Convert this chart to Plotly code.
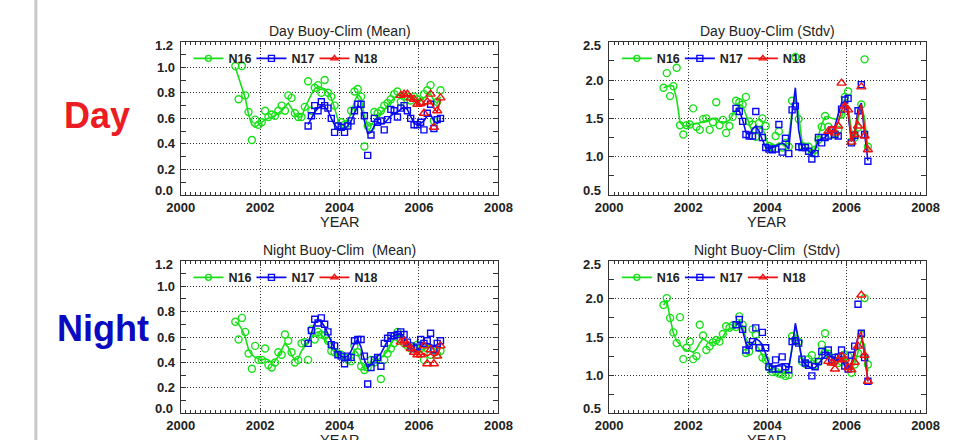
import plotly.graph_objects as go

# ---------------- data (monthly values) ----------------
N16_START = (2001, 5)
N17_START = (2003, 3)
N18_START = (2005, 7)

YEAR_TICKS = [2000, 2002, 2004, 2006, 2008]
MEAN_TICKS = [0.0, 0.2, 0.4, 0.6, 0.8, 1.0, 1.2]
STD_TICKS = [0.5, 1.0, 1.5, 2.0, 2.5]

# Day mean
DAY_MEAN_N16 = [1.01, 0.75, 1.01, 0.78, 0.65, 0.43, 0.59, 0.55,
                0.57, 0.66, 0.61, 0.63, 0.62, 0.66, 0.70, 0.66, 0.78, 0.76, 0.64, 0.61,
                0.61, 0.69, 0.89, 0.66, 0.84, 0.86, 0.80, 0.90, 0.80, 0.77, 0.70, 0.54,
                0.57, 0.55, 0.56, 0.66, 0.81, 0.83, 0.77, 0.38, 0.54, 0.53, 0.65, 0.64,
                0.66, 0.70, 0.72, 0.75, 0.79, 0.81, 0.73, 0.77, 0.77, 0.74, 0.77, 0.75,
                0.73, 0.79, 0.82, 0.86, 0.58, 0.73, 0.82]
DAY_MEAN_N16_SMOOTH = [1.00, 0.92, 0.85, 0.76, 0.63, 0.55, 0.53, 0.55,
                       0.57, 0.59, 0.60, 0.61, 0.62, 0.64, 0.66, 0.69, 0.72, 0.68, 0.63, 0.61,
                       0.61, 0.68, 0.74, 0.79, 0.83, 0.85, 0.84, 0.83, 0.80, 0.76, 0.68, 0.59,
                       0.55, 0.55, 0.58, 0.64, 0.73, 0.79, 0.76, 0.62, 0.54, 0.54, 0.58, 0.62,
                       0.64, 0.67, 0.70, 0.73, 0.76, 0.78, 0.78, 0.78, 0.77, 0.77, 0.75, 0.74,
                       0.74, 0.76, 0.78, 0.79, 0.74, 0.72, 0.77]
DAY_MEAN_N17 = [0.54, 0.62, 0.70, 0.66, 0.73, 0.70, 0.68, 0.60, 0.49, 0.54,
                0.53, 0.49, 0.54, 0.58, 0.66, 0.71, 0.71, 0.62, 0.31, 0.47, 0.60, 0.57,
                0.58, 0.51, 0.59, 0.67, 0.66, 0.61, 0.68, 0.70, 0.66, 0.60, 0.55, 0.55,
                0.57, 0.51, 0.64, 0.71, 0.52, 0.59, 0.60]
DAY_MEAN_N17_SMOOTH = [0.55, 0.60, 0.65, 0.68, 0.70, 0.69, 0.66, 0.60, 0.55, 0.52,
                       0.52, 0.52, 0.54, 0.58, 0.64, 0.70, 0.68, 0.58, 0.48, 0.49, 0.54, 0.57,
                       0.56, 0.56, 0.59, 0.62, 0.64, 0.65, 0.67, 0.69, 0.67, 0.61, 0.56, 0.55,
                       0.56, 0.58, 0.62, 0.63, 0.58, 0.56, 0.59]
DAY_MEAN_N18 = [0.78, 0.79, 0.79, 0.76, 0.75, 0.71, 0.72, 0.64, 0.73, 0.79, 0.53, 0.66, 0.76]
DAY_MEAN_N18_SMOOTH = [0.77, 0.78, 0.78, 0.76, 0.74, 0.72, 0.70, 0.70, 0.72, 0.74, 0.68, 0.65, 0.75]

# Day stdv
DAY_STD_N16 = [1.90, 2.09, 1.79, 1.92, 2.16, 1.41, 1.29, 1.41,
               1.42, 1.63, 1.39, 1.35, 1.49, 1.50, 1.35, 1.45, 1.71, 1.41, 1.48, 1.31,
               1.40, 1.52, 1.73, 1.71, 1.68, 1.78, 1.46, 1.42, 1.26, 1.44, 1.50, 1.40,
               1.14, 1.12, 1.27, 1.33, 1.12, 1.18, 1.13, 1.73, 2.30, 1.49, 1.14, 1.13,
               1.13, 1.05, 1.09, 1.22, 1.39, 1.53, 1.39, 1.29, 1.31, 1.35, 1.55, 1.78,
               1.85, 1.20, 1.25, 1.38, 1.68, 2.27, 1.13]
DAY_STD_N16_SMOOTH = [1.90, 1.92, 1.93, 1.92, 1.75, 1.45, 1.40, 1.40,
                      1.42, 1.43, 1.43, 1.44, 1.45, 1.47, 1.48, 1.50, 1.50, 1.46, 1.45, 1.45,
                      1.48, 1.55, 1.62, 1.68, 1.66, 1.55, 1.42, 1.32, 1.30, 1.36, 1.38, 1.25,
                      1.13, 1.12, 1.15, 1.18, 1.16, 1.17, 1.25, 1.60, 1.80, 1.55, 1.20, 1.12,
                      1.10, 1.05, 1.12, 1.28, 1.42, 1.52, 1.52, 1.50, 1.49, 1.48, 1.52, 1.62,
                      1.65, 1.35, 1.22, 1.48, 1.68, 1.50, 1.10]
DAY_STD_N17 = [1.63, 1.59, 1.46, 1.29, 1.27, 1.27, 1.59, 1.35, 1.25, 1.12,
               1.10, 1.09, 1.10, 1.42, 1.06, 1.24, 1.04, 1.61, 1.66, 1.13, 1.12, 1.12,
               1.07, 0.97, 1.04, 1.25, 1.18, 1.25, 1.27, 1.35, 1.29, 1.27, 1.62, 1.74,
               1.76, 1.18, 1.28, 1.60, 1.94, 1.29, 0.94]
DAY_STD_N17_SMOOTH = [1.62, 1.60, 1.48, 1.32, 1.28, 1.36, 1.40, 1.33, 1.22, 1.12,
                      1.10, 1.12, 1.15, 1.17, 1.18, 1.15, 1.10, 1.55, 1.90, 1.35, 1.12, 1.10,
                      1.08, 1.03, 1.08, 1.22, 1.24, 1.25, 1.30, 1.33, 1.40, 1.55, 1.70, 1.72,
                      1.55, 1.20, 1.30, 1.62, 1.70, 1.30, 0.95]
DAY_STD_N18 = [1.33, 1.35, 1.31, 1.40, 1.96, 1.66, 1.61, 1.19, 1.29, 1.40, 1.91, 1.27, 1.09]
DAY_STD_N18_SMOOTH = [1.32, 1.33, 1.36, 1.45, 1.60, 1.70, 1.62, 1.20, 1.30, 1.55, 1.68, 1.35, 1.07]

# Night mean
NIGHT_MEAN_N16 = [0.72, 0.58, 0.75, 0.64, 0.47, 0.35, 0.53, 0.42,
                  0.42, 0.51, 0.38, 0.36, 0.40, 0.48, 0.46, 0.62, 0.57, 0.48, 0.40, 0.42,
                  0.55, 0.56, 0.42, 0.66, 0.58, 0.64, 0.62, 0.61, 0.57, 0.49, 0.48, 0.47,
                  0.46, 0.44, 0.42, 0.41, 0.53, 0.48, 0.37, 0.34, 0.36, 0.42, 0.40, 0.43,
                  0.27, 0.42, 0.47, 0.51, 0.55, 0.64, 0.58, 0.55, 0.53, 0.51, 0.52, 0.54,
                  0.51, 0.42, 0.51, 0.46, 0.50, 0.46, 0.49]
NIGHT_MEAN_N16_SMOOTH = [0.72, 0.70, 0.66, 0.60, 0.50, 0.46, 0.44, 0.43,
                         0.42, 0.43, 0.42, 0.40, 0.41, 0.45, 0.50, 0.55, 0.52, 0.46, 0.42, 0.43,
                         0.49, 0.53, 0.57, 0.60, 0.63, 0.64, 0.62, 0.58, 0.54, 0.51, 0.48, 0.46,
                         0.45, 0.43, 0.42, 0.44, 0.50, 0.47, 0.40, 0.34, 0.36, 0.39, 0.41, 0.42,
                         0.44, 0.46, 0.49, 0.54, 0.59, 0.62, 0.58, 0.55, 0.52, 0.51, 0.50, 0.50,
                         0.50, 0.50, 0.52, 0.53, 0.51, 0.49, 0.47]
NIGHT_MEAN_N17 = [0.55, 0.65, 0.74, 0.71, 0.75, 0.70, 0.64, 0.54, 0.53, 0.46,
                  0.45, 0.39, 0.45, 0.44, 0.57, 0.58, 0.58, 0.45, 0.23, 0.36, 0.42, 0.44,
                  0.37, 0.55, 0.59, 0.61, 0.61, 0.62, 0.64, 0.62, 0.56, 0.53, 0.51, 0.52,
                  0.58, 0.55, 0.57, 0.63, 0.50, 0.55, 0.57]
NIGHT_MEAN_N17_SMOOTH = [0.55, 0.64, 0.71, 0.73, 0.72, 0.68, 0.62, 0.56, 0.51, 0.47,
                         0.45, 0.44, 0.45, 0.49, 0.55, 0.58, 0.52, 0.42, 0.36, 0.38, 0.42, 0.45,
                         0.47, 0.52, 0.57, 0.60, 0.61, 0.62, 0.63, 0.60, 0.55, 0.51, 0.49, 0.50,
                         0.52, 0.55, 0.55, 0.54, 0.53, 0.54, 0.55]
NIGHT_MEAN_N18 = [0.56, 0.57, 0.54, 0.51, 0.48, 0.46, 0.46, 0.53, 0.39, 0.50, 0.39, 0.45, 0.53]
NIGHT_MEAN_N18_SMOOTH = [0.56, 0.56, 0.54, 0.51, 0.48, 0.46, 0.46, 0.47, 0.45, 0.47, 0.45, 0.46, 0.52]

# Night stdv
NIGHT_STD_N16 = [1.92, 2.01, 1.75, 1.56, 1.42, 1.76, 1.21, 1.36,
                 1.44, 1.21, 1.25, 1.66, 1.52, 1.33, 1.38, 1.43, 1.46, 1.44, 1.54, 1.64,
                 1.62, 1.65, 1.63, 1.77, 1.66, 1.29, 1.31, 1.60, 1.53, 1.36, 1.23, 1.20,
                 1.10, 1.04, 1.05, 1.02, 1.01, 0.99, 1.00, 1.51, 1.47, 1.44, 1.18, 1.15,
                 1.21, 1.26, 1.13, 1.17, 1.40, 1.55, 1.28, 1.20, 1.18, 1.16, 1.18, 1.27,
                 1.25, 1.03, 1.14, 1.29, 1.53, 2.01, 1.14]
NIGHT_STD_N16_SMOOTH = [1.92, 1.98, 1.75, 1.55, 1.45, 1.40, 1.35, 1.33,
                        1.32, 1.30, 1.34, 1.42, 1.48, 1.45, 1.42, 1.43, 1.44, 1.46, 1.50, 1.58,
                        1.60, 1.62, 1.65, 1.72, 1.64, 1.48, 1.40, 1.42, 1.40, 1.34, 1.25, 1.18,
                        1.10, 1.05, 1.04, 1.03, 1.02, 1.02, 1.08, 1.40, 1.65, 1.45, 1.20, 1.16,
                        1.17, 1.20, 1.18, 1.22, 1.32, 1.35, 1.30, 1.25, 1.20, 1.18, 1.20, 1.22,
                        1.15, 1.08, 1.15, 1.30, 1.45, 1.40, 1.05]
NIGHT_STD_N17 = [1.66, 1.73, 1.60, 1.33, 1.39, 1.44, 1.62, 1.36, 1.56, 1.36,
                 1.11, 1.08, 1.20, 1.08, 1.24, 1.11, 1.07, 1.44, 1.45, 1.42, 1.21, 1.16,
                 1.13, 0.99, 1.11, 1.18, 1.31, 1.26, 1.33, 1.20, 1.23, 1.24, 1.33, 1.12,
                 1.08, 1.26, 1.38, 1.93, 1.55, 1.23, 0.92]
NIGHT_STD_N17_SMOOTH = [1.65, 1.70, 1.58, 1.42, 1.36, 1.42, 1.48, 1.45, 1.40, 1.28,
                        1.15, 1.10, 1.12, 1.13, 1.15, 1.12, 1.10, 1.35, 1.68, 1.45, 1.20, 1.14,
                        1.12, 1.09, 1.10, 1.15, 1.20, 1.25, 1.28, 1.24, 1.20, 1.22, 1.25, 1.12,
                        1.08, 1.15, 1.32, 1.50, 1.52, 1.30, 0.92]
NIGHT_STD_N18 = [1.18, 1.16, 1.08, 1.20, 1.25, 1.21, 1.10, 1.07, 1.17, 1.38, 2.05, 1.26, 0.92]
NIGHT_STD_N18_SMOOTH = [1.15, 1.13, 1.12, 1.18, 1.23, 1.18, 1.08, 1.10, 1.25, 1.50, 1.57, 1.25, 0.92]

# ---------------- styling ----------------
W, H = 959, 440
GREEN, BLUE, RED = "#18e018", "#0a0af0", "#f01010"
AXC = "#333333"
TXT = "#222222"
FONT = "Liberation Sans, Arial, sans-serif"


def month_positions(start, n):
    y, m = start
    return [y + (m - 1 + k + 0.5) / 12.0 for k in range(n)]


def px_x(p):
    return p / W


def px_y(p):
    return 1 - p / H


LEFT_X = [171.7, 499.0]
RIGHT_X = [613.0, 939.0]
TOP_Y = [41.7, 195.0]
BOT_Y = [260.7, 413.3]

panels = [
    dict(title="Day Buoy-Clim (Mean)", xd=LEFT_X, yd=TOP_Y, ticks=MEAN_TICKS, mdt=0.1,
         series=[(DAY_MEAN_N16, DAY_MEAN_N16_SMOOTH), (DAY_MEAN_N17, DAY_MEAN_N17_SMOOTH),
                 (DAY_MEAN_N18, DAY_MEAN_N18_SMOOTH)]),
    dict(title="Day Buoy-Clim (Stdv)", xd=RIGHT_X, yd=TOP_Y, ticks=STD_TICKS, mdt=0.25,
         series=[(DAY_STD_N16, DAY_STD_N16_SMOOTH), (DAY_STD_N17, DAY_STD_N17_SMOOTH),
                 (DAY_STD_N18, DAY_STD_N18_SMOOTH)]),
    dict(title="Night Buoy-Clim  (Mean)", xd=LEFT_X, yd=BOT_Y, ticks=MEAN_TICKS, mdt=0.1,
         series=[(NIGHT_MEAN_N16, NIGHT_MEAN_N16_SMOOTH), (NIGHT_MEAN_N17, NIGHT_MEAN_N17_SMOOTH),
                 (NIGHT_MEAN_N18, NIGHT_MEAN_N18_SMOOTH)]),
    dict(title="Night Buoy-Clim  (Stdv)", xd=RIGHT_X, yd=BOT_Y, ticks=STD_TICKS, mdt=0.25,
         series=[(NIGHT_STD_N16, NIGHT_STD_N16_SMOOTH), (NIGHT_STD_N17, NIGHT_STD_N17_SMOOTH),
                 (NIGHT_STD_N18, NIGHT_STD_N18_SMOOTH)]),
]

sat_names = ["N16", "N17", "N18"]
sat_starts = [N16_START, N17_START, N18_START]
sat_colors = [GREEN, BLUE, RED]
sat_symbols = ["circle-open", "square-open", "triangle-up-open"]
sat_sizes = [7, 6, 8]

fig = go.Figure()
layout = dict(
    width=W, height=H, margin=dict(l=0, r=0, t=0, b=0),
    paper_bgcolor="white", plot_bgcolor="white",
    font=dict(family=FONT, color=TXT),
    annotations=[], shapes=[],
)
tickfont = dict(size=13, family=FONT, color=TXT, weight="bold")

for i, p in enumerate(panels):
    k = "" if i == 0 else str(i + 1)
    xa, ya = "x" + k, "y" + k
    lg = "legend" + k
    for j in range(3):
        vals, smooth = p["series"][j]
        xs = month_positions(sat_starts[j], len(vals))
        xs2 = month_positions(sat_starts[j], len(smooth))
        fig.add_trace(go.Scatter(
            x=xs2, y=smooth, mode="lines", xaxis=xa, yaxis=ya,
            line=dict(color=sat_colors[j], width=1.6), showlegend=False, hoverinfo="skip"))
        fig.add_trace(go.Scatter(
            x=xs, y=vals, mode="markers", xaxis=xa, yaxis=ya,
            marker=dict(symbol=sat_symbols[j], size=sat_sizes[j], color=sat_colors[j],
                        line=dict(width=1.4, color=sat_colors[j])),
            showlegend=False))
        fig.add_trace(go.Scatter(
            x=[None], y=[None], mode="lines+markers", xaxis=xa, yaxis=ya,
            name=sat_names[j], legend=lg,
            line=dict(color=sat_colors[j], width=1.6),
            marker=dict(symbol=sat_symbols[j], size=6, color=sat_colors[j],
                        line=dict(width=1.4, color=sat_colors[j]))))

    ticks = p["ticks"]
    y0, y1 = ticks[0], ticks[-1]
    common = dict(showline=True, linecolor=AXC, linewidth=1, mirror="allticks",
                  ticks="inside", ticklen=5, tickcolor=AXC, showgrid=True,
                  gridcolor="#333", griddash="1px,2px", gridwidth=1, zeroline=False,
                  tickfont=tickfont)
    layout["xaxis" + k] = dict(
        common, domain=[px_x(p["xd"][0]), px_x(p["xd"][1])], anchor=ya,
        range=[2000, 2008], tickmode="array", tickvals=YEAR_TICKS, tickformat="d",
        minor=dict(tickmode="linear", dtick=0.125, tick0=2000, ticks="inside", ticklen=3,
                   tickcolor=AXC, showgrid=False))
    # inner tick labels via the axis; the end labels are nudged inward (as in the original)
    layout["yaxis" + k] = dict(
        common, domain=[px_y(p["yd"][1]), px_y(p["yd"][0])], anchor=xa,
        range=[y0, y1], tickmode="array", tickvals=ticks[1:-1], tickformat=".1f",
        ticklabelstandoff=2,
        minor=dict(tickmode="linear", dtick=p["mdt"], tick0=0, ticks="inside", ticklen=5,
                   tickcolor=AXC, showgrid=False))
    for val, shift in ((y1, 3.5), (y0, -4.3)):
        layout["annotations"].append(dict(
            text=f"{val:.1f}", x=2000, xref=xa, y=val, yref=ya,
            xshift=-6, yshift=-shift, showarrow=False, xanchor="right", yanchor="middle",
            font=tickfont))
    layout[lg] = dict(
        orientation="h", x=px_x(p["xd"][0] + 8), y=px_y(p["yd"][0] + 17),
        xanchor="left", yanchor="middle", bgcolor="rgba(0,0,0,0)",
        font=dict(size=12.5, family=FONT, color=TXT, weight="bold"),
        itemwidth=30, entrywidth=18, entrywidthmode="pixels", tracegroupgap=0)
    cx = (p["xd"][0] + p["xd"][1]) / 2
    layout["annotations"].append(dict(
        text=p["title"], x=px_x(cx), y=px_y(p["yd"][0] - 11), xref="paper", yref="paper",
        showarrow=False, xanchor="center", yanchor="middle",
        font=dict(size=14, family=FONT, color=TXT)))
    layout["annotations"].append(dict(
        text="YEAR", x=px_x(cx), y=px_y(p["yd"][1] + 26.5), xref="paper", yref="paper",
        showarrow=False, xanchor="center", yanchor="middle",
        font=dict(size=14.5, family=FONT, color=TXT)))

layout["annotations"].append(dict(
    text="<b>Day</b>", x=px_x(86), y=px_y(115), xref="paper", yref="paper", showarrow=False,
    xanchor="center", yanchor="middle", font=dict(size=36, family=FONT, color="#ec1c24")))
layout["annotations"].append(dict(
    text="<b>Night</b>", x=px_x(92), y=px_y(328), xref="paper", yref="paper", showarrow=False,
    xanchor="center", yanchor="middle", font=dict(size=36, family=FONT, color="#0a0ac0")))
layout["shapes"].append(dict(type="line", xref="paper", yref="paper",
                             x0=px_x(22.5), x1=px_x(22.5), y0=0, y1=1,
                             line=dict(color="#c8c8c8", width=3)))

fig.update_layout(**layout)
fig.write_html("out.html")
